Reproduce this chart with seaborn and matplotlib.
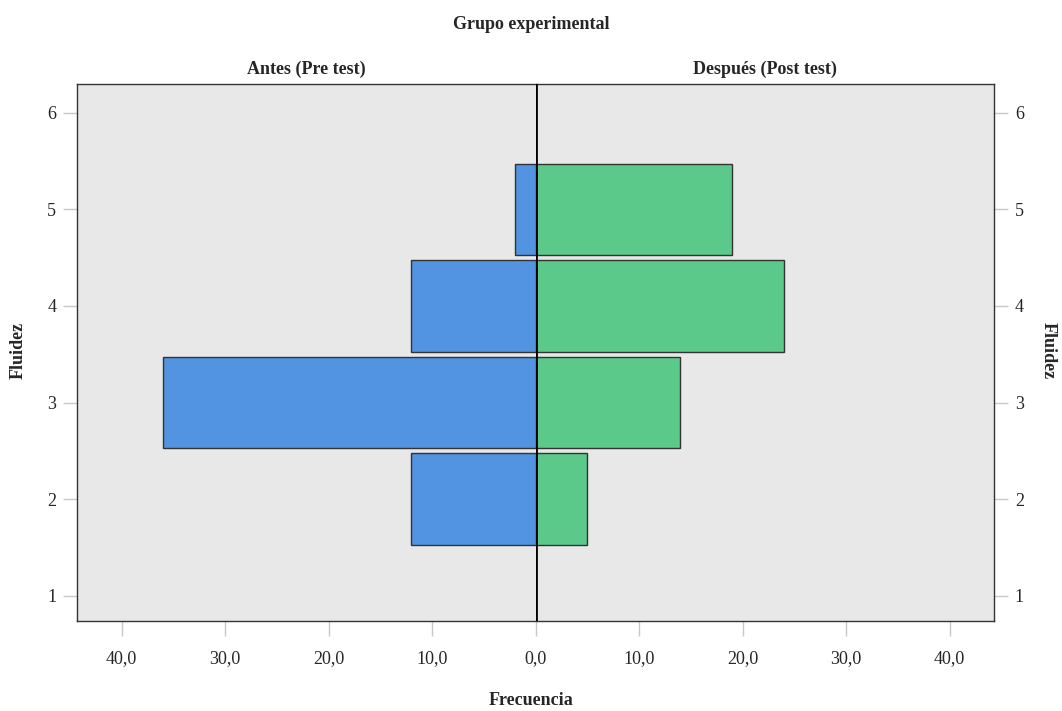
import matplotlib
matplotlib.use('Agg')
import matplotlib.pyplot as plt
import seaborn as sns
import pandas as pd

# Data
fluidez = [2, 3, 4, 5]
antes = [12, 36, 12, 2]
despues = [5, 14, 24, 19]
xticks_left = [10, 20, 30, 40]
xticks_right = [0, 10, 20, 30, 40]
yticks = [1, 2, 3, 4, 5, 6]

blue = '#5294e2'
green = '#5ac98a'
panel_bg = '#e8e8e8'

sns.set_style('white')
plt.rcParams['font.family'] = ['Liberation Serif', 'DejaVu Serif']

df_antes = pd.DataFrame({'Fluidez': fluidez, 'Frecuencia': antes})
df_despues = pd.DataFrame({'Fluidez': fluidez, 'Frecuencia': despues})

fig, (ax1, ax2) = plt.subplots(1, 2, figsize=(10.62, 7.11), dpi=100, sharey=True)
fig.subplots_adjust(left=0.0725, right=0.936, top=0.882, bottom=0.127, wspace=0)

for ax, df, col, xt in [(ax1, df_antes, blue, xticks_left), (ax2, df_despues, green, xticks_right)]:
    sns.barplot(data=df, x='Frecuencia', y='Fluidez', orient='h', native_scale=True,
                width=0.95, color=col, edgecolor='#333333', linewidth=1.0,
                saturation=1, ax=ax, zorder=2)
    ax.set_facecolor(panel_bg)
    ax.set_ylim(0.74, 6.3)
    ax.set_xticks(xt)
    ax.set_xticklabels([f'{v:.1f}'.replace('.', ',') for v in xt], fontsize=13)
    ax.set_xlabel('')
    ax.set_ylabel('')
    ax.tick_params(axis='x', bottom=True, length=11, width=1, color='#c8c8c8', pad=10)
    ax.tick_params(axis='y', length=10, width=1, color='#c8c8c8', pad=5, labelsize=13)
    for s in ax.spines.values():
        s.set_color('#333333')
        s.set_linewidth(1)

ax1.set_xlim(44.3, 0)
ax2.set_xlim(0, 44.3)
ax1.set_yticks(yticks)
ax1.spines['right'].set_visible(False)
ax2.spines['left'].set_visible(False)
ax1.tick_params(axis='y', left=True)
ax2.tick_params(axis='y', left=False, right=True, labelleft=False, labelright=True)

# center line
ax2.axvline(0, color='black', linewidth=2, zorder=5)

ax1.set_title('Antes (Pre test)', fontsize=13, fontweight='bold', pad=7)
ax2.set_title('Después (Post test)', fontsize=13, fontweight='bold', pad=7)

fig.text(0.5, 0.965, 'Grupo experimental', ha='center', va='center', fontsize=13, fontweight='bold')
fig.text(0.5, 0.015, 'Frecuencia', ha='center', va='center', fontsize=13, fontweight='bold')
fig.text(0.017, 0.507, 'Fluidez', ha='center', va='center', rotation=90, fontsize=13, fontweight='bold')
fig.text(0.987, 0.507, 'Fluidez', ha='center', va='center', rotation=270, fontsize=13, fontweight='bold')

plt.savefig('out.png', dpi=100)
